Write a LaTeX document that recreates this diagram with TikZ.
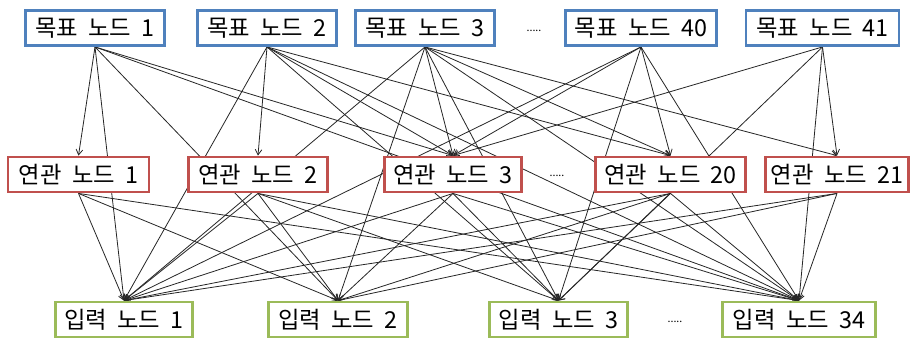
\documentclass[tikz,border=0pt]{standalone}
\usepackage{fontspec}
\setmainfont[WordSpace=2]{Noto Sans CJK KR}
\usetikzlibrary{arrows.meta}
\pgfdeclarelayer{edges}
\pgfsetlayers{edges,main}
\definecolor{tblue}{RGB}{79,129,189}
\definecolor{rred}{RGB}{192,80,77}
\definecolor{igreen}{RGB}{155,187,89}
\tikzset{
  box/.style={draw, line width=1.9pt, fill=white, inner sep=0pt, minimum height=26.5pt,
              font=\fontsize{17.5}{20}\selectfont},
  tbox/.style={box, draw=tblue},
  rbox/.style={box, draw=rred},
  ibox/.style={box, draw=igreen},
  link/.style={draw=black!85, line width=0.6pt, -{Straight Barb[length=4pt,width=5pt]}},
  dotsnode/.style={font=\fontsize{8}{10}\selectfont, inner sep=0pt}
}
\begin{document}
\begin{tikzpicture}[x=0.75pt,y=-0.75pt]
\useasboundingbox (0,0) rectangle (912,340);
% top row
\node[tbox, minimum width=104.5pt] (t1)  at (95,28)    {목표 노드 1};
\node[tbox, minimum width=104.5pt] (t2)  at (267,28)   {목표 노드 2};
\node[tbox, minimum width=104.5pt] (t3)  at (425,28)   {목표 노드 3};
\node[tbox, minimum width=113.5pt] (t40) at (641,28)   {목표 노드 40};
\node[tbox, minimum width=114.5pt] (t41) at (822.5,28) {목표 노드 41};
\node[dotsnode] (d1) at (534,31) {.....};
% middle row
\node[rbox, minimum width=105.5pt] (r1)  at (78.5,174.5)  {연관 노드 1};
\node[rbox, minimum width=104.5pt] (r2)  at (258,174.5)   {연관 노드 2};
\node[rbox, minimum width=103pt]   (r3)  at (453,174.5)   {연관 노드 3};
\node[rbox, minimum width=112.5pt] (r20) at (670.5,174.5) {연관 노드 20};
\node[rbox, minimum width=107.5pt] (r21) at (837,174.5)   {연관 노드 21};
\node[dotsnode] (d2) at (557,176) {.....};
% bottom row
\node[ibox, minimum width=103pt]   (i1)  at (124,319.5)   {입력 노드 1};
\node[ibox, minimum width=104.5pt] (i2)  at (338,319.5)   {입력 노드 2};
\node[ibox, minimum width=103.5pt] (i3)  at (558.5,319.5) {입력 노드 3};
\node[ibox, minimum width=115pt]   (i34) at (799,319.5)   {입력 노드 34};
\node[dotsnode] (d3) at (675,322) {.....};
\begin{pgfonlayer}{edges}
\fill[white] (0,0) rectangle (912,340);
\foreach \a/\b in {t1/r1,t1/r3,t2/r2,t2/r3,t2/r20,t3/r3,t3/r20,t3/r21,t40/r3,t40/r20,t41/r3,t41/r21}
  \draw[link] (\a.south) -- (\b.north);
\foreach \a/\b in {t1/i1,t1/i2,t1/i34,t2/i1,t2/i3,t2/i34,t3/i1,t3/i2,t3/i3,t3/i34,t40/i1,t40/i3,t40/i34,t41/i3,t41/i34}
  \draw[link] (\a.south) -- (\b.north);
\foreach \a/\b in {r1/i1,r1/i2,r1/i34,r2/i1,r2/i2,r2/i3,r2/i34,r3/i1,r3/i2,r3/i3,r3/i34,r20/i1,r20/i2,r20/i3,r20/i34,r21/i1,r21/i2,r21/i34}
  \draw[link] (\a.south) -- (\b.north);
\end{pgfonlayer}
\end{tikzpicture}
\end{document}
